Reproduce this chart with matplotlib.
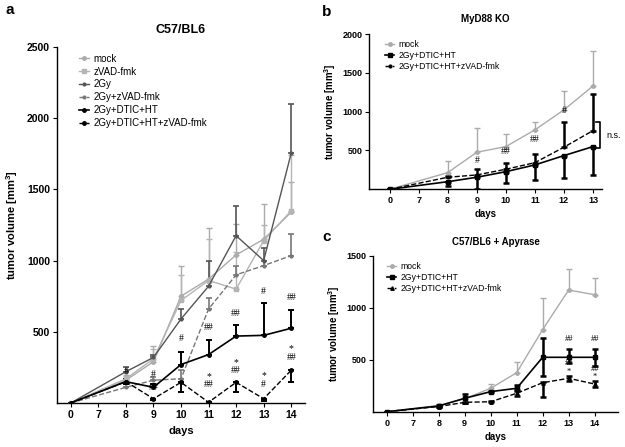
import numpy as np
import matplotlib
matplotlib.use("Agg")
import matplotlib.pyplot as plt

plt.rcParams['font.family'] = ['Liberation Sans', 'DejaVu Sans']
plt.rcParams['mathtext.fontset'] = 'custom'
plt.rcParams['mathtext.bf'] = 'Liberation Sans:bold'
plt.rcParams['mathtext.rm'] = 'Liberation Sans:bold'
plt.rcParams['mathtext.default'] = 'bf'

# ---------------- Panel a data ----------------
days_a = ['0', '7', '8', '9', '10', '11', '12', '13', '14']
a_labels = ['mock', 'zVAD-fmk', '2Gy', '2Gy+zVAD-fmk', '2Gy+DTIC+HT', '2Gy+DTIC+HT+zVAD-fmk']
a_mock = [0, np.nan, 160, 290, 750, 870, 1040, 1150, 1340]
a_mock_up = [0, np.nan, 200, 400, 960, 1230, 1260, 1400, 1550]
a_zvad = [0, np.nan, 170, 310, 720, 860, 800, 1140, 1350]
a_zvad_up = [0, np.nan, 190, 380, 900, 1150, 1060, 1250, 1740]
a_2gy = [0, np.nan, 220, 320, 590, 820, 1175, 1000, 1755]
a_2gy_up = [0, np.nan, 250, 340, 660, 995, 1380, 1090, 2100]
a_2gyz = [0, np.nan, 110, 160, 170, 660, 900, 965, 1035]
a_2gyz_up = [0, np.nan, 130, 180, 230, 740, 960, 1000, 1185]
a_dth = [0, np.nan, 150, 110, 270, 340, 470, 475, 525]
a_dth_up = [0, np.nan, 170, 130, 360, 440, 545, 700, 650]
a_dthz = [0, np.nan, 150, 30, 145, 5, 145, 30, 230]
a_dthz_lo = [0, np.nan, 130, 20, 75, 0, 75, 15, 145]
# annotations: (day index, value, text)
a_ann_x = [2, 3, 3, 4, 5, 5, 5, 6, 6, 6, 7, 7, 7, 8, 8, 8]
a_ann_y = [218, 197, 110, 450, 528, 183, 127, 627, 284, 228, 784, 190, 127, 739, 380, 322]
a_ann_t = ['#', '#', '##', '#', '##', '*', '##', '##', '*', '##', '#', '*', '#', '##', '*', '##']

# ---------------- Panel b data ----------------
days_b = ['0', '7', '8', '9', '10', '11', '12', '13']
b_labels = ['mock', '2Gy+DTIC+HT', '2Gy+DTIC+HT+zVAD-fmk']
b_mock = [0, np.nan, 215, 477, 550, 765, 1023, 1330]
b_mock_up = [0, np.nan, 365, 795, 710, 872, 1260, 1780]
b_dth = [0, np.nan, 98, 155, 227, 314, 434, 550]
b_dth_lo = [0, np.nan, 46, 0, 85, 120, 150, 185]
b_dthz = [0, np.nan, 155, 185, 258, 343, 542, 756]
b_dthz_up = [0, np.nan, 170, 258, 343, 451, 865, 1221]
b_ann_x = [3, 4, 5, 6]
b_ann_y = [365, 485, 636, 1015]
b_ann_t = ['#', '##', '##', '#']

# ---------------- Panel c data ----------------
days_c = ['0', '7', '8', '9', '10', '11', '12', '13', '14']
c_labels = ['mock', '2Gy+DTIC+HT', '2Gy+DTIC+HT+zVAD-fmk']
c_mock = [0, np.nan, 60, 125, 225, 375, 790, 1170, 1125]
c_mock_up = [0, np.nan, 70, 140, 263, 475, 1090, 1370, 1290]
c_dth = [0, np.nan, 55, 129, 193, 225, 523, 523, 523]
c_dth_lo = [0, np.nan, 50, 80, 185, 210, 340, 465, 440]
c_dth_up = [0, np.nan, 60, 170, 200, 255, 712, 603, 606]
c_dthz = [0, np.nan, 50, 90, 96, 177, 279, 321, 266]
c_dthz_lo = [0, np.nan, 45, 85, 90, 150, 138, 296, 240]
c_dthz_up = [0, np.nan, 55, 95, 100, 202, 285, 346, 292]
c_ann_x = [7, 8, 7, 8, 7, 8]
c_ann_y = [696, 696, 470, 410, 385, 330]
c_ann_t = ['##', '##', '##', '##', '*', '*']

fig = plt.figure(figsize=(6.25, 4.47), dpi=100)

def style_axes(ax, ylim, yticks, fs):
    for s in ['top', 'right']:
        ax.spines[s].set_visible(False)
    ax.spines['left'].set_linewidth(1.0)
    ax.spines['bottom'].set_linewidth(1.0)
    ax.set_ylim(*ylim)
    ax.set_yticks(yticks)
    ax.tick_params(axis='both', direction='out', length=3, width=0.8, labelsize=fs, pad=2)
    for lab in ax.get_xticklabels() + ax.get_yticklabels():
        lab.set_fontweight('bold')

def draw(ax, x, y, lo, up, color, ls, marker, ms, lw, elw, cap, label):
    y = np.asarray(y, float)
    lo = np.asarray(lo, float)
    up = np.asarray(up, float)
    m = ~np.isnan(y)
    xm = np.asarray(x)[m]
    ym = y[m]
    ax.errorbar(xm, ym, yerr=[ym - lo[m], up[m] - ym], fmt='none', ecolor=color,
                elinewidth=elw, capsize=cap, capthick=elw, zorder=2)
    ax.plot(xm, ym, color=color, ls=ls, lw=lw, marker=marker, ms=ms,
            mfc=color, mec=color, label=label, zorder=3)

# ---------------- Panel a ----------------
axa = fig.add_axes([57/625, 1-403/447, 248/625, 356/447])
xa = np.arange(len(days_a))
draw(axa, xa, a_mock, a_mock, a_mock_up, '#ababab', '-', 'o', 2.5, 1.0, 1.0, 2.5, a_labels[0])
draw(axa, xa, a_zvad, a_zvad, a_zvad_up, '#b4b4b4', '-', 's', 2.5, 1.0, 1.0, 2.5, a_labels[1])
draw(axa, xa, a_2gy, a_2gy, a_2gy_up, '#555555', '-', 'o', 2.0, 1.0, 1.2, 2.5, a_labels[2])
draw(axa, xa, a_2gyz, a_2gyz, a_2gyz_up, '#777777', '--', 'o', 2.0, 1.0, 1.2, 2.5, a_labels[3])
draw(axa, xa, a_dth, a_dth, a_dth_up, '#000000', '-', 'o', 2.5, 1.2, 1.4, 2.5, a_labels[4])
draw(axa, xa, a_dthz, a_dthz_lo, a_dthz, '#000000', '--', 'o', 2.5, 1.0, 1.4, 2.5, a_labels[5])
axa.set_xlim(-0.5, 8.5)
axa.set_xticks(xa)
axa.set_xticklabels(days_a)
style_axes(axa, (0, 2500), [500, 1000, 1500, 2000, 2500], 7.5)
axa.set_xlabel('days', fontsize=8, fontweight='bold', labelpad=4)
axa.set_ylabel(r'tumor volume [mm$^{3}$]', fontsize=8, fontweight='bold', labelpad=5)
for xi, yi, t in zip(a_ann_x, a_ann_y, a_ann_t):
    axa.text(xa[xi], yi, t, ha='center', va='center', fontsize=7, family='Liberation Serif')
axa.legend(loc='upper left', bbox_to_anchor=(0.07, 0.995), frameon=False, fontsize=7,
           handlelength=1.0, handletextpad=0.5, labelspacing=0.3, borderpad=0)
axa.set_title('C57/BL6', fontsize=9, fontweight='bold', pad=10)

# ---------------- Panel b ----------------
axb = fig.add_axes([369.3/625, 1-189.3/447, 232.4/625, 155.3/447])
xb = np.arange(len(days_b))
draw(axb, xb, b_mock, b_mock, b_mock_up, '#ababab', '-', 'o', 2.5, 1.0, 1.0, 2.5, b_labels[0])
draw(axb, xb, b_dth, b_dth_lo, b_dth, '#000000', '-', 's', 2.5, 1.2, 1.8, 2.5, b_labels[1])
draw(axb, xb, b_dthz, b_dthz, b_dthz_up, '#000000', '--', 'o', 2.0, 1.0, 1.8, 2.5, b_labels[2])
axb.set_xlim(-0.7, 7.3)
axb.set_xticks(xb)
axb.set_xticklabels(days_b)
style_axes(axb, (0, 2000), [500, 1000, 1500, 2000], 6.5)
axb.set_xlabel('days', fontsize=7, fontweight='bold', labelpad=3)
axb.set_ylabel(r'tumor volume [mm$^{3}$]', fontsize=7, fontweight='bold', labelpad=3)
for xi, yi, t in zip(b_ann_x, b_ann_y, b_ann_t):
    axb.text(xb[xi], yi, t, ha='center', va='center', fontsize=7, family='Liberation Serif')
# n.s. bracket
axb.plot([7.12, 7.25, 7.25, 7.12], [b_dthz[7] + 110, b_dthz[7] + 110, b_dth[7] - 20, b_dth[7] - 20],
         color='black', lw=1.2, clip_on=False)
axb.text(7.45, (b_dthz[7] + b_dth[7]) / 2 + 40, 'n.s.', fontsize=6.5, va='center', ha='left')
axb.legend(loc='upper left', bbox_to_anchor=(0.05, 0.99), frameon=False, fontsize=6.2,
           handlelength=1.0, handletextpad=0.5, labelspacing=0.25, borderpad=0)
axb.set_title('MyD88 KO', fontsize=7, fontweight='bold', pad=9)

# ---------------- Panel c ----------------
axc = fig.add_axes([373.3/625, 1-411.7/447, 244.7/625, 156/447])
xc = np.arange(len(days_c))
draw(axc, xc, c_mock, c_mock, c_mock_up, '#ababab', '-', 'o', 2.5, 1.0, 1.0, 2.5, c_labels[0])
draw(axc, xc, c_dth, c_dth_lo, c_dth_up, '#000000', '-', 's', 2.5, 1.2, 1.8, 2.5, c_labels[1])
draw(axc, xc, c_dthz, c_dthz_lo, c_dthz_up, '#000000', '--', '^', 2.5, 1.0, 1.8, 2.5, c_labels[2])
axc.set_xlim(-0.52, 8.9)
axc.set_xticks(xc)
axc.set_xticklabels(days_c)
style_axes(axc, (0, 1500), [500, 1000, 1500], 6.5)
axc.set_xlabel('days', fontsize=7, fontweight='bold', labelpad=3)
axc.set_ylabel(r'tumor volume [mm$^{3}$]', fontsize=7, fontweight='bold', labelpad=3)
for xi, yi, t in zip(c_ann_x, c_ann_y, c_ann_t):
    axc.text(xc[xi], yi, t, ha='center', va='center', fontsize=6, family='Liberation Serif')
axc.legend(loc='upper left', bbox_to_anchor=(0.04, 0.99), frameon=False, fontsize=6.2,
           handlelength=1.0, handletextpad=0.5, labelspacing=0.25, borderpad=0)
axc.set_title('C57/BL6 + Apyrase', fontsize=7, fontweight='bold', pad=8)

# panel letters
fig.text(5/625, 1-10/447, 'a', fontsize=11, fontweight='bold', va='center', ha='left')
fig.text(322/625, 1-12/447, 'b', fontsize=11, fontweight='bold', va='center', ha='left')
fig.text(322/625, 1-237/447, 'c', fontsize=11, fontweight='bold', va='center', ha='left')

fig.savefig('out.png', dpi=100, facecolor='white')
